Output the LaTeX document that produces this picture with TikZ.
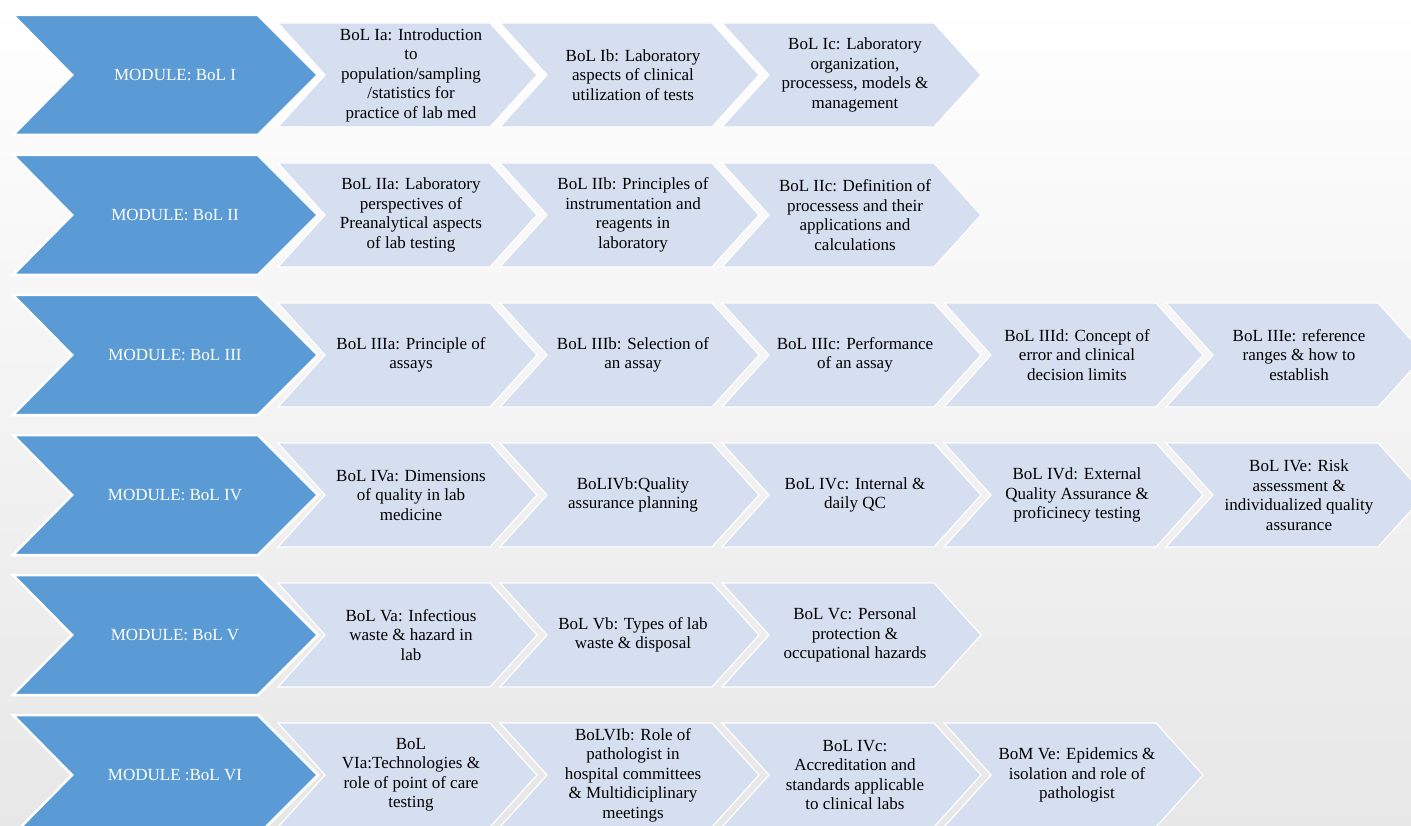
\documentclass[tikz,border=0pt]{standalone}
\usepackage{fontspec}
\setmainfont{Liberation Serif}
\definecolor{modblue}{RGB}{91,155,213}
\definecolor{litefill}{RGB}{214,223,239}
\definecolor{bgbot}{RGB}{231,231,231}
\tikzset{
  modchev/.style={fill=modblue, draw=white, line width=2.5pt, line join=miter},
  litechev/.style={fill=litefill, draw=white, line width=1.2pt, line join=miter},
  modtext/.style={text=white, font=\fontsize{17}{19.5}\selectfont, align=center, inner sep=0pt},
  litetext/.style={text=black, font=\fontsize{17}{19.5}\selectfont, align=center, inner sep=0pt},
}
\newcommand{\ModChev}[3]{%
  \filldraw[modchev] (13,#2-60) -- (258,#2-60) -- (318,#2) -- (258,#2+60) -- (13,#2+60) -- (72,#2) -- cycle;
  \node[modtext] (#1) at (175,#2) {#3};}
\newcommand{\LiteChev}[4]{%
  \filldraw[litechev] (#2,#3-52) -- (#2+212,#3-52) -- (#2+259,#3) -- (#2+212,#3+52) -- (#2,#3+52) -- (#2+47,#3) -- cycle;
  \node[litetext] (#1) at (#2+133,#3) {#4};}
\begin{document}
\begin{tikzpicture}[x=1pt,y=-1pt]
\useasboundingbox (0,0) rectangle (1411,826);
\clip (0,0) rectangle (1411,826);
\shade[top color=white, bottom color=bgbot] (0,0) rectangle (1411,826);

% Row 1
\LiteChev{r1a}{278}{75}{BoL Ia: Introduction\\to\\population/sampling\\/statistics for\\practice of lab med}
\LiteChev{r1b}{500}{75}{BoL Ib: Laboratory\\aspects of clinical\\utilization of tests}
\LiteChev{r1c}{722}{75}{BoL Ic: Laboratory\\organization,\\processess, models \&\\management}
\ModChev{m1}{75}{MODULE: BoL I}

% Row 2
\LiteChev{r2a}{278}{215}{BoL IIa: Laboratory\\perspectives of\\Preanalytical aspects\\of lab testing}
\LiteChev{r2b}{500}{215}{BoL IIb: Principles of\\instrumentation and\\reagents in\\laboratory}
\LiteChev{r2c}{722}{215}{BoL IIc: Definition of\\processess and their\\applications and\\calculations}
\ModChev{m2}{215}{MODULE: BoL II}

% Row 3
\LiteChev{r3a}{278}{355}{BoL IIIa: Principle of\\assays}
\LiteChev{r3b}{500}{355}{BoL IIIb: Selection of\\an assay}
\LiteChev{r3c}{722}{355}{BoL IIIc: Performance\\of an assay}
\LiteChev{r3d}{944}{355}{BoL IIId: Concept of\\error and clinical\\decision limits}
\LiteChev{r3e}{1166}{355}{BoL IIIe: reference\\ranges \& how to\\establish}
\ModChev{m3}{355}{MODULE: BoL III}

% Row 4
\LiteChev{r4a}{278}{495}{BoL IVa: Dimensions\\of quality in lab\\medicine}
\LiteChev{r4b}{500}{495}{BoLIVb:Quality\\assurance planning}
\LiteChev{r4c}{722}{495}{BoL IVc: Internal \&\\daily QC}
\LiteChev{r4d}{944}{495}{BoL IVd: External\\Quality Assurance \&\\proficinecy testing}
\LiteChev{r4e}{1166}{495}{BoL IVe: Risk\\assessment \&\\individualized quality\\assurance}
\ModChev{m4}{495}{MODULE: BoL IV}

% Row 5
\LiteChev{r5a}{278}{635}{BoL Va: Infectious\\waste \& hazard in\\lab}
\LiteChev{r5b}{500}{635}{BoL Vb: Types of lab\\waste \& disposal}
\LiteChev{r5c}{722}{635}{BoL Vc: Personal\\protection \&\\occupational hazards}
\ModChev{m5}{635}{MODULE: BoL V}

% Row 6
\LiteChev{r6a}{278}{775}{BoL\\VIa:Technologies \&\\role of point of care\\testing}
\LiteChev{r6b}{500}{775}{BoLVIb: Role of\\pathologist in\\hospital committees\\\& Multidiciplinary\\meetings}
\LiteChev{r6c}{722}{775}{BoL IVc:\\Accreditation and\\standards applicable\\to clinical labs}
\LiteChev{r6d}{944}{775}{BoM Ve: Epidemics \&\\isolation and role of\\pathologist}
\ModChev{m6}{775}{MODULE :BoL VI}
\end{tikzpicture}
\end{document}
